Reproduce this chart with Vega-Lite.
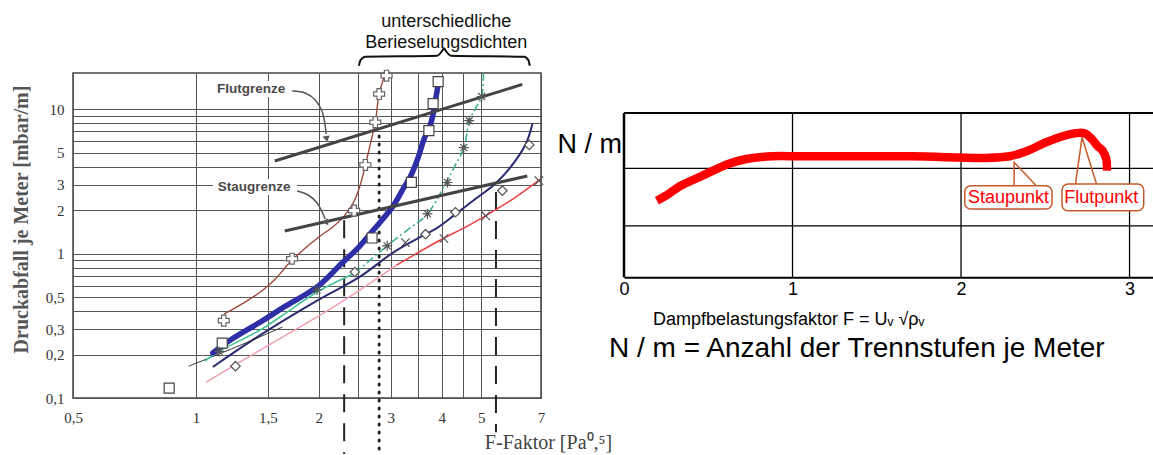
{
"$schema":"https://vega.github.io/schema/vega-lite/v6.json",
"background":"white",
"padding":{"left":10,"top":12,"right":0,"bottom":0},
"spacing":83,
"bounds":"flush",
"config":{"view":{"stroke":null},"line":{"interpolate":"catmull-rom"}},
"datasets":{
"brown":[{"F":1.17,"P":0.38},{"F":1.3,"P":0.45},{"F":1.45,"P":0.55},{"F":1.56,"P":0.66},{"F":1.72,"P":0.9},{"F":2.0,"P":1.3},{"F":2.16,"P":1.52},{"F":2.31,"P":1.82},{"F":2.44,"P":2.3},{"F":2.53,"P":3.03},{"F":2.6,"P":4.1},{"F":2.68,"P":5.9},{"F":2.75,"P":8.1},{"F":2.81,"P":12.7},{"F":2.91,"P":17.7}],
"blue":[{"F":1.1,"P":0.205},{"F":1.21,"P":0.25},{"F":1.45,"P":0.34},{"F":1.63,"P":0.42},{"F":2.0,"P":0.6},{"F":2.28,"P":0.86},{"F":2.5,"P":1.1},{"F":2.73,"P":1.47},{"F":3.03,"P":2.1},{"F":3.24,"P":2.9},{"F":3.35,"P":3.4},{"F":3.5,"P":4.6},{"F":3.62,"P":6.2},{"F":3.74,"P":7.6},{"F":3.8,"P":8.9},{"F":3.88,"P":12.5},{"F":3.93,"P":15.4}],
"greenA":[{"F":1.05,"P":0.18},{"F":1.14,"P":0.21},{"F":1.45,"P":0.3},{"F":1.63,"P":0.374},{"F":2.0,"P":0.55},{"F":2.45,"P":0.73}],
"greenB":[{"F":2.45,"P":0.73},{"F":2.94,"P":1.13},{"F":3.3,"P":1.46},{"F":3.69,"P":1.88},{"F":4.1,"P":3.1},{"F":4.3,"P":4.0},{"F":4.54,"P":5.45},{"F":4.67,"P":8.3},{"F":4.85,"P":10.2},{"F":5.01,"P":12.2},{"F":5.06,"P":17.7}],
"navy":[{"F":1.1,"P":0.164},{"F":1.45,"P":0.277},{"F":2.0,"P":0.48},{"F":2.5,"P":0.68},{"F":3.08,"P":1.04},{"F":3.65,"P":1.36},{"F":3.89,"P":1.5},{"F":4.3,"P":1.85},{"F":4.85,"P":2.4},{"F":5.4,"P":3.03},{"F":5.85,"P":3.85},{"F":6.42,"P":5.7},{"F":6.67,"P":7.9}],
"pink":[{"F":1.06,"P":0.129},{"F":1.45,"P":0.218},{"F":2.0,"P":0.37},{"F":2.5,"P":0.55},{"F":3.1,"P":0.83}],
"red":[{"F":3.1,"P":0.83},{"F":4.05,"P":1.28},{"F":4.49,"P":1.48},{"F":5.13,"P":1.83},{"F":6.0,"P":2.4},{"F":6.99,"P":3.28}],
"thin":[{"F":0.96,"P":0.166},{"F":1.3,"P":0.235},{"F":1.63,"P":0.31}],
"limits":[{"g":"Flut","F":1.56,"P":4.37},{"g":"Flut","F":6.3,"P":14.8},{"g":"Stau","F":1.65,"P":1.43},{"g":"Stau","F":6.48,"P":3.44}],
"arrows":[{"g":"a","F":1.721,"P":13.32},{"g":"a","F":1.852,"P":12.9},{"g":"a","F":1.96,"P":11.54},{"g":"a","F":2.039,"P":9.53},{"g":"a","F":2.085,"P":6.71},{"g":"b","F":1.77,"P":2.707},{"g":"b","F":1.883,"P":2.54},{"g":"b","F":1.981,"P":2.236},{"g":"b","F":2.073,"P":1.733}],
"brace":[{"F":2.507,"P":19.94},{"F":2.53,"P":21.8},{"F":2.602,"P":23.0},{"F":3.9,"P":23.4},{"F":4.01,"P":25.3},{"F":4.05,"P":26.3},{"F":4.09,"P":25.3},{"F":4.21,"P":23.4},{"F":6.36,"P":23.0},{"F":6.52,"P":21.8},{"F":6.57,"P":19.94}],
"plus":[{"F":1.17,"P":0.343},{"F":1.72,"P":0.92},{"F":2.44,"P":1.98},{"F":2.6,"P":4.1},{"F":2.75,"P":8.1},{"F":2.81,"P":12.7},{"F":2.93,"P":17.0}],
"squares":[{"F":0.86,"P":0.117},{"F":1.16,"P":0.24},{"F":2.7,"P":1.28},{"F":3.37,"P":3.11},{"F":3.72,"P":7.08},{"F":3.81,"P":10.9},{"F":3.92,"P":15.45}],
"stars":[{"F":1.14,"P":0.21},{"F":1.98,"P":0.56},{"F":2.94,"P":1.13},{"F":3.69,"P":1.88},{"F":4.13,"P":3.1},{"F":4.53,"P":5.4},{"F":4.67,"P":8.3},{"F":5.01,"P":12.2}],
"diamonds":[{"F":1.25,"P":0.166},{"F":2.45,"P":0.745},{"F":3.65,"P":1.36},{"F":4.32,"P":1.93},{"F":5.63,"P":2.72},{"F":6.55,"P":5.64}],
"crosses":[{"F":3.26,"P":1.19},{"F":4.05,"P":1.27},{"F":5.13,"P":1.82},{"F":6.92,"P":3.19}],
"nm":[{"x":0.195,"y":1.399},{"x":0.249,"y":1.49},{"x":0.336,"y":1.672},{"x":0.466,"y":1.855},{"x":0.618,"y":2.069},{"x":0.726,"y":2.16},{"x":0.878,"y":2.209},{"x":1.052,"y":2.209},{"x":1.702,"y":2.209},{"x":2.136,"y":2.178},{"x":2.288,"y":2.209},{"x":2.396,"y":2.311},{"x":2.504,"y":2.465},{"x":2.613,"y":2.585},{"x":2.678,"y":2.629},{"x":2.732,"y":2.629},{"x":2.776,"y":2.525},{"x":2.808,"y":2.403},{"x":2.84,"y":2.311},{"x":2.862,"y":2.16},{"x":2.866,"y":1.946}],
"ptr":[{"p":"s","o":1,"x":2.315,"y":1.667},{"p":"s","o":2,"x":2.315,"y":2.1},{"p":"s","o":3,"x":2.451,"y":1.658},{"p":"f","o":1,"x":2.678,"y":1.672},{"p":"f","o":2,"x":2.718,"y":2.556},{"p":"f","o":3,"x":2.807,"y":1.672}]
},
"hconcat":[
{
"width":468,"height":325,
"view":{"stroke":"#444","strokeWidth":1.5},
"layer":[
{"data":{"values":[{}]},"mark":{"type":"rect","fill":"white"},
 "encoding":{
  "x":{"datum":1.1,"scale":{"type":"log","domain":[0.5,7],"nice":false},
   "axis":{"values":[0.5,1,1.5,2,2.5,3,3.5,4,4.5,5,7],"labelExpr":"indexof([2.5,3.5,4.5], datum.value) >= 0 ? '' : replace(toString(datum.value), '.', ',')","grid":true,"gridColor":"#555","gridWidth":1,"domain":false,"ticks":false,"labelFont":"Liberation Serif","labelFontSize":15,"labelColor":"#333","labelPadding":12,"labelFlush":false,"labelOverlap":false,"labelBound":false,"title":"F-Faktor [Pa⁰,⁵]","titleFont":"Liberation Serif","titleFontSize":20,"titleFontWeight":"normal","titleColor":"#444","titleX":475,"titleY":44,"titleAlign":"center","titleBaseline":"middle","titleAngle":0}},
  "x2":{"datum":1.74},
  "y":{"datum":12.1,"scale":{"type":"log","domain":[0.1,17.75],"nice":false},
   "axis":{"values":[0.1,0.2,0.3,0.4,0.5,0.6,0.7,0.8,0.9,1,2,3,4,5,6,7,8,9,10],"labelExpr":"indexof([0.1,0.2,0.3,0.5,1,2,3,5,10], datum.value) >= 0 ? replace(toString(datum.value), '.', ',') : ''","grid":true,"gridColor":"#555","gridWidth":1,"domain":false,"ticks":false,"labelFont":"Liberation Serif","labelFontSize":15,"labelColor":"#333","labelPadding":9,"labelOverlap":false,"labelFlush":false,"labelBound":false,"title":"Druckabfall je Meter [mbar/m]","titleFont":"Liberation Serif","titleFontSize":20,"titleFontWeight":"bold","titleColor":"#555","titleX":-52,"titleY":146,"titleAngle":-90,"titleAlign":"center","titleBaseline":"middle"}},
  "y2":{"datum":15.6}}},
{"data":{"values":[{}]},"mark":{"type":"rect","fill":"white"},
 "encoding":{"x":{"datum":1.1,"scale":{"type":"log","domain":[0.5,7],"nice":false}},"x2":{"datum":1.77},"y":{"datum":2.54,"scale":{"type":"log","domain":[0.1,17.75],"nice":false}},"y2":{"datum":3.28}}},
{"data":{"values":[{}]},"mark":{"type":"rule","color":"#222","strokeWidth":2,"strokeDash":[18,11]},
 "encoding":{"x":{"datum":2.307,"scale":{"type":"log","domain":[0.5,7],"nice":false}},"y":{"datum":1.7,"scale":{"type":"log","domain":[0.1,17.75],"nice":false}},"y2":{"datum":0.041}}},
{"data":{"values":[{}]},"mark":{"type":"rule","color":"#222","strokeWidth":2,"strokeDash":[18,11]},
 "encoding":{"x":{"datum":5.43,"scale":{"type":"log","domain":[0.5,7],"nice":false}},"y":{"datum":2.66,"scale":{"type":"log","domain":[0.1,17.75],"nice":false}},"y2":{"datum":0.058}}},
{"data":{"values":[{}]},"mark":{"type":"rule","color":"#222","strokeWidth":3,"strokeDash":[1,7],"strokeCap":"round"},
 "encoding":{"x":{"datum":2.81,"scale":{"type":"log","domain":[0.5,7],"nice":false}},"y":{"datum":6.5,"scale":{"type":"log","domain":[0.1,17.75],"nice":false}},"y2":{"datum":0.041}}},
{"data":{"name":"pink"},"mark":{"type":"line","color":"#f2a0b0","strokeWidth":1.5},
 "encoding":{"x":{"field":"F","type":"quantitative","scale":{"type":"log","domain":[0.5,7],"nice":false}},"y":{"field":"P","type":"quantitative","scale":{"type":"log","domain":[0.1,17.75],"nice":false}}}},
{"data":{"name":"red"},"mark":{"type":"line","color":"#e84040","strokeWidth":1.5},
 "encoding":{"x":{"field":"F","type":"quantitative","scale":{"type":"log","domain":[0.5,7],"nice":false}},"y":{"field":"P","type":"quantitative","scale":{"type":"log","domain":[0.1,17.75],"nice":false}}}},
{"data":{"name":"navy"},"mark":{"type":"line","color":"#2b2b70","strokeWidth":2},
 "encoding":{"x":{"field":"F","type":"quantitative","scale":{"type":"log","domain":[0.5,7],"nice":false}},"y":{"field":"P","type":"quantitative","scale":{"type":"log","domain":[0.1,17.75],"nice":false}}}},
{"data":{"name":"thin"},"mark":{"type":"line","color":"#333","strokeWidth":1},
 "encoding":{"x":{"field":"F","type":"quantitative","scale":{"type":"log","domain":[0.5,7],"nice":false}},"y":{"field":"P","type":"quantitative","scale":{"type":"log","domain":[0.1,17.75],"nice":false}}}},
{"data":{"name":"greenA"},"mark":{"type":"line","color":"#45c49a","strokeWidth":1.6},
 "encoding":{"x":{"field":"F","type":"quantitative","scale":{"type":"log","domain":[0.5,7],"nice":false}},"y":{"field":"P","type":"quantitative","scale":{"type":"log","domain":[0.1,17.75],"nice":false}}}},
{"data":{"name":"greenB"},"mark":{"type":"line","color":"#3bb08a","strokeWidth":1.6,"strokeDash":[8,3,2,3]},
 "encoding":{"x":{"field":"F","type":"quantitative","scale":{"type":"log","domain":[0.5,7],"nice":false}},"y":{"field":"P","type":"quantitative","scale":{"type":"log","domain":[0.1,17.75],"nice":false}}}},
{"data":{"name":"brown"},"mark":{"type":"line","color":"#9c4a3a","strokeWidth":1.4},
 "encoding":{"x":{"field":"F","type":"quantitative","scale":{"type":"log","domain":[0.5,7],"nice":false}},"y":{"field":"P","type":"quantitative","scale":{"type":"log","domain":[0.1,17.75],"nice":false}}}},
{"data":{"name":"blue"},"mark":{"type":"line","color":"#2e2ea6","strokeWidth":5.5,"strokeCap":"round"},
 "encoding":{"x":{"field":"F","type":"quantitative","scale":{"type":"log","domain":[0.5,7],"nice":false}},"y":{"field":"P","type":"quantitative","scale":{"type":"log","domain":[0.1,17.75],"nice":false}}}},
{"data":{"name":"limits"},"mark":{"type":"line","color":"#444","strokeWidth":3,"interpolate":"linear"},
 "encoding":{"x":{"field":"F","type":"quantitative","scale":{"type":"log","domain":[0.5,7],"nice":false}},"y":{"field":"P","type":"quantitative","scale":{"type":"log","domain":[0.1,17.75],"nice":false}},"detail":{"field":"g"}}},
{"data":{"name":"plus"},"mark":{"type":"point","shape":"cross","filled":true,"fill":"white","stroke":"#666","strokeWidth":1.2,"size":120,"opacity":1},
 "encoding":{"x":{"field":"F","type":"quantitative","scale":{"type":"log","domain":[0.5,7],"nice":false}},"y":{"field":"P","type":"quantitative","scale":{"type":"log","domain":[0.1,17.75],"nice":false}}}},
{"data":{"name":"squares"},"mark":{"type":"point","shape":"square","filled":true,"fill":"white","stroke":"#444","strokeWidth":1.2,"size":100,"opacity":1},
 "encoding":{"x":{"field":"F","type":"quantitative","scale":{"type":"log","domain":[0.5,7],"nice":false}},"y":{"field":"P","type":"quantitative","scale":{"type":"log","domain":[0.1,17.75],"nice":false}}}},
{"data":{"name":"stars"},"mark":{"type":"point","shape":"M-1,0L1,0M0,-1L0,1M-0.7,-0.7L0.7,0.7M-0.7,0.7L0.7,-0.7","filled":false,"stroke":"#555","strokeWidth":1.2,"size":100,"opacity":1},
 "encoding":{"x":{"field":"F","type":"quantitative","scale":{"type":"log","domain":[0.5,7],"nice":false}},"y":{"field":"P","type":"quantitative","scale":{"type":"log","domain":[0.1,17.75],"nice":false}}}},
{"data":{"name":"diamonds"},"mark":{"type":"point","shape":"diamond","filled":true,"fill":"white","stroke":"#555","strokeWidth":1.2,"size":90,"opacity":1},
 "encoding":{"x":{"field":"F","type":"quantitative","scale":{"type":"log","domain":[0.5,7],"nice":false}},"y":{"field":"P","type":"quantitative","scale":{"type":"log","domain":[0.1,17.75],"nice":false}}}},
{"data":{"name":"crosses"},"mark":{"type":"point","shape":"M-1,-1L1,1M-1,1L1,-1","filled":false,"stroke":"#555","strokeWidth":1.2,"size":70,"opacity":1},
 "encoding":{"x":{"field":"F","type":"quantitative","scale":{"type":"log","domain":[0.5,7],"nice":false}},"y":{"field":"P","type":"quantitative","scale":{"type":"log","domain":[0.1,17.75],"nice":false}}}},
{"data":{"name":"arrows"},"mark":{"type":"line","color":"#555","strokeWidth":1.5},
 "encoding":{"x":{"field":"F","type":"quantitative","scale":{"type":"log","domain":[0.5,7],"nice":false}},"y":{"field":"P","type":"quantitative","scale":{"type":"log","domain":[0.1,17.75],"nice":false}},"detail":{"field":"g"}}},
{"data":{"values":[{}]},"mark":{"type":"point","shape":"triangle-down","filled":true,"color":"#555","size":50,"angle":-8,"opacity":1},
 "encoding":{"x":{"datum":2.09,"scale":{"type":"log","domain":[0.5,7],"nice":false}},"y":{"datum":6.2,"scale":{"type":"log","domain":[0.1,17.75],"nice":false}}}},
{"data":{"values":[{}]},"mark":{"type":"point","shape":"triangle-down","filled":true,"color":"#555","size":50,"angle":-35,"opacity":1},
 "encoding":{"x":{"datum":2.09,"scale":{"type":"log","domain":[0.5,7],"nice":false}},"y":{"datum":1.63,"scale":{"type":"log","domain":[0.1,17.75],"nice":false}}}},
{"data":{"name":"brace"},"mark":{"type":"line","color":"#111","strokeWidth":2,"interpolate":"monotone"},
 "encoding":{"x":{"field":"F","type":"quantitative","scale":{"type":"log","domain":[0.5,7],"nice":false}},"y":{"field":"P","type":"quantitative","scale":{"type":"log","domain":[0.1,17.75],"nice":false}}}},
{"data":{"values":[{}]},"mark":{"type":"text","text":"Flutgrenze","font":"Liberation Sans","fontSize":13.5,"fontWeight":"bold","color":"#4a4a4a","align":"center","baseline":"middle"},
 "encoding":{"x":{"datum":1.366,"scale":{"type":"log","domain":[0.5,7],"nice":false}},"y":{"datum":13.7,"scale":{"type":"log","domain":[0.1,17.75],"nice":false}}}},
{"data":{"values":[{}]},"mark":{"type":"text","text":"Staugrenze","font":"Liberation Sans","fontSize":13.5,"fontWeight":"bold","color":"#4a4a4a","align":"center","baseline":"middle"},
 "encoding":{"x":{"datum":1.388,"scale":{"type":"log","domain":[0.5,7],"nice":false}},"y":{"datum":2.88,"scale":{"type":"log","domain":[0.1,17.75],"nice":false}}}},
{"data":{"values":[{}]},"mark":{"type":"text","text":"unterschiedliche","font":"Liberation Sans","fontSize":18,"color":"#111","align":"center","baseline":"middle"},
 "encoding":{"x":{"datum":4.104,"scale":{"type":"log","domain":[0.5,7],"nice":false}},"y":{"datum":40.0,"scale":{"type":"log","domain":[0.1,17.75],"nice":false}}}},
{"data":{"values":[{}]},"mark":{"type":"text","text":"Berieselungsdichten","font":"Liberation Sans","fontSize":18,"color":"#111","align":"center","baseline":"middle"},
 "encoding":{"x":{"datum":4.104,"scale":{"type":"log","domain":[0.5,7],"nice":false}},"y":{"datum":28.6,"scale":{"type":"log","domain":[0.1,17.75],"nice":false}}}}
]
},
{
"width":531,"height":325,
"view":{"stroke":null},
"layer":[
{"data":{"values":[{"x":1},{"x":2},{"x":3}]},"mark":{"type":"rule","color":"#000","strokeWidth":1.3},
 "encoding":{"x":{"field":"x","type":"quantitative","scale":{"domain":[0,3.151],"nice":false,"zero":false},
   "axis":{"values":[0,1,2,3],"offset":-120.7,"domain":true,"domainColor":"#000","domainWidth":2,"ticks":false,"grid":false,"labelFont":"Liberation Sans","labelFontSize":18,"labelColor":"#000","labelPadding":3,"labelFlush":false,"labelOverlap":false,"labelBound":false,"title":null,"format":"d"}},
  "y":{"datum":0,"scale":{"domain":[-2.204,3.73],"nice":false,"zero":false},"axis":null},"y2":{"datum":3}}},
{"data":{"values":[{"y":0.937},{"y":1.99}]},"mark":{"type":"rule","color":"#000","strokeWidth":1.3},
 "encoding":{"y":{"field":"y","type":"quantitative","scale":{"domain":[-2.204,3.73],"nice":false,"zero":false},"axis":null},"x":{"datum":0,"scale":{"domain":[0,3.151],"nice":false,"zero":false}},"x2":{"datum":3.151}}},
{"data":{"values":[{}]},"mark":{"type":"rule","color":"#000","strokeWidth":2.5},
 "encoding":{"x":{"datum":0,"scale":{"domain":[0,3.151],"nice":false,"zero":false}},"y":{"datum":0,"scale":{"domain":[-2.204,3.73],"nice":false,"zero":false},"axis":null},"y2":{"datum":3}}},
{"data":{"values":[{}]},"mark":{"type":"rule","color":"#000","strokeWidth":2},
 "encoding":{"y":{"datum":3,"scale":{"domain":[-2.204,3.73],"nice":false,"zero":false},"axis":null},"x":{"datum":0,"scale":{"domain":[0,3.151],"nice":false,"zero":false}},"x2":{"datum":3.151}}},
{"data":{"name":"nm"},"mark":{"type":"line","color":"#ff0000","strokeWidth":8.5,"strokeCap":"butt","strokeJoin":"round"},
 "encoding":{"x":{"field":"x","type":"quantitative","scale":{"domain":[0,3.151],"nice":false,"zero":false}},"y":{"field":"y","type":"quantitative","scale":{"domain":[-2.204,3.73],"nice":false,"zero":false},"axis":null}}},
{"data":{"name":"ptr"},"mark":{"type":"line","color":"#c55a2b","strokeWidth":1.5,"interpolate":"linear"},
 "encoding":{"x":{"field":"x","type":"quantitative","scale":{"domain":[0,3.151],"nice":false,"zero":false}},"y":{"field":"y","type":"quantitative","scale":{"domain":[-2.204,3.73],"nice":false,"zero":false},"axis":null},"detail":{"field":"p"},"order":{"field":"o"}}},
{"data":{"values":[{}]},"mark":{"type":"rect","fill":"white","stroke":"#c55a2b","strokeWidth":1.5,"cornerRadius":6},
 "encoding":{"x":{"datum":2.022,"scale":{"domain":[0,3.151],"nice":false,"zero":false}},"x2":{"datum":2.54},"y":{"datum":1.247,"scale":{"domain":[-2.204,3.73],"nice":false,"zero":false},"axis":null},"y2":{"datum":1.672}}},
{"data":{"values":[{}]},"mark":{"type":"rect","fill":"white","stroke":"#c55a2b","strokeWidth":1.5,"cornerRadius":6},
 "encoding":{"x":{"datum":2.599,"scale":{"domain":[0,3.151],"nice":false,"zero":false}},"x2":{"datum":3.084},"y":{"datum":1.216,"scale":{"domain":[-2.204,3.73],"nice":false,"zero":false},"axis":null},"y2":{"datum":1.704}}},
{"data":{"values":[{}]},"mark":{"type":"text","text":"Staupunkt","font":"Liberation Sans","fontSize":18,"color":"#ff0000","align":"center","baseline":"middle"},
 "encoding":{"x":{"datum":2.282,"scale":{"domain":[0,3.151],"nice":false,"zero":false}},"y":{"datum":1.452,"scale":{"domain":[-2.204,3.73],"nice":false,"zero":false},"axis":null}}},
{"data":{"values":[{}]},"mark":{"type":"text","text":"Flutpunkt","font":"Liberation Sans","fontSize":18,"color":"#ff0000","align":"center","baseline":"middle"},
 "encoding":{"x":{"datum":2.832,"scale":{"domain":[0,3.151],"nice":false,"zero":false}},"y":{"datum":1.452,"scale":{"domain":[-2.204,3.73],"nice":false,"zero":false},"axis":null}}},
{"data":{"values":[{}]},"mark":{"type":"text","text":"N / m","font":"Liberation Sans","fontSize":27,"color":"#000","align":"right","baseline":"middle"},
 "encoding":{"x":{"datum":-0.012,"scale":{"domain":[0,3.151],"nice":false,"zero":false}},"y":{"datum":2.416,"scale":{"domain":[-2.204,3.73],"nice":false,"zero":false},"axis":null}}},
{"data":{"values":[{}]},"mark":{"type":"text","text":"Dampfbelastungsfaktor F = Uᵥ √ρᵥ","font":"Liberation Sans","fontSize":18,"color":"#000","align":"left","baseline":"middle"},
 "encoding":{"x":{"datum":0.172,"scale":{"domain":[0,3.151],"nice":false,"zero":false}},"y":{"datum":-0.78,"scale":{"domain":[-2.204,3.73],"nice":false,"zero":false},"axis":null}}},
{"data":{"values":[{}]},"mark":{"type":"text","text":"N / m = Anzahl der Trennstufen je Meter","font":"Liberation Sans","fontSize":28,"color":"#000","align":"left","baseline":"middle"},
 "encoding":{"x":{"datum":-0.089,"scale":{"domain":[0,3.151],"nice":false,"zero":false}},"y":{"datum":-1.309,"scale":{"domain":[-2.204,3.73],"nice":false,"zero":false},"axis":null}}}
]
}
]
}
